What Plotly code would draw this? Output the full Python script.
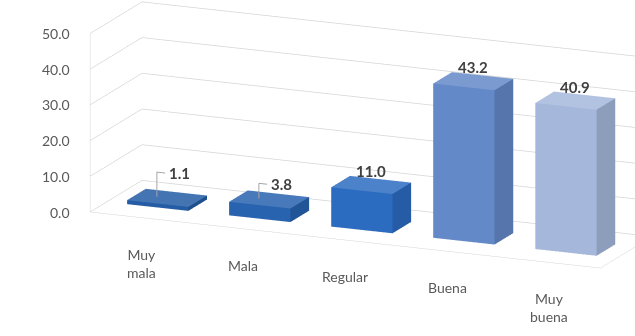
import math
import plotly.graph_objects as go

categories = ["Muy mala", "Mala", "Regular", "Buena", "Muy buena"]
category_labels = ["Muy<br>mala", "Mala", "Regular", "Buena", "Muy<br>buena"]
values = [1.1, 3.8, 11.0, 43.2, 40.9]
axis_ticks = [0, 10, 20, 30, 40, 50]
bar_colors = ["#245ca5", "#2863b0", "#2c6cc0", "#6389c8", "#a5b8dc"]

BAR_W = 0.6           # bar width as a fraction of the category slot
DEPTH = (0.32, 0.68)  # bar extent along the depth axis
FONT = "Lato, Open Sans, sans-serif"
TEXT = "#595959"


def scale(hex_color, f):
    h = hex_color.lstrip("#")
    r, g, b = (int(h[i:i + 2], 16) for i in (0, 2, 4))
    if f >= 1:
        r, g, b = (int(c + (255 - c) * (f - 1)) for c in (r, g, b))
    else:
        r, g, b = (int(c * f) for c in (r, g, b))
    return f"rgb({r},{g},{b})"


def cuboid(ix, height, color):
    x0, x1 = ix - BAR_W / 2, ix + BAR_W / 2
    y0, y1 = DEPTH
    xs = [x0, x1, x1, x0, x0, x1, x1, x0]
    ys = [y0, y0, y1, y1, y0, y0, y1, y1]
    zs = [0, 0, 0, 0, height, height, height, height]
    tri = [
        (0, 1, 2), (0, 2, 3),   # bottom
        (4, 5, 6), (4, 6, 7),   # top
        (0, 1, 5), (0, 5, 4),   # front
        (3, 2, 6), (3, 6, 7),   # back
        (0, 3, 7), (0, 7, 4),   # left
        (1, 2, 6), (1, 6, 5),   # right
    ]
    shades = [0.6, 0.6, 1.15, 1.15, 1.0, 1.0, 0.9, 0.9, 0.8, 0.8, 0.86, 0.86]
    return go.Mesh3d(
        x=xs, y=ys, z=zs,
        i=[t[0] for t in tri], j=[t[1] for t in tri], k=[t[2] for t in tri],
        facecolor=[scale(color, s) for s in shades],
        flatshading=True,
        lighting=dict(ambient=1.0, diffuse=0.0, specular=0.0, fresnel=0.0),
        hoverinfo="skip", showscale=False, name=categories[ix],
    )


fig = go.Figure()
for ix, (v, c) in enumerate(zip(values, bar_colors)):
    fig.add_trace(cuboid(ix, v, c))

annotations = []
y_mid = sum(DEPTH) / 2
for ix, v in enumerate(values):
    label = f"<b>{v:.1f}</b>"
    if v < 5:
        # short bars get a leader line up to a raised label
        lift = 8.0
        fig.add_trace(go.Scatter3d(
            x=[ix - 0.1, ix - 0.1, ix - 0.02],
            y=[y_mid, y_mid, y_mid],
            z=[v, lift, lift],
            mode="lines", line=dict(color="#a6a6a6", width=2),
            hoverinfo="skip", showlegend=False,
        ))
        annotations.append(dict(
            x=ix, y=y_mid, z=lift, text=label, showarrow=False,
            xanchor="left", yanchor="middle",
            font=dict(family=FONT, size=15, color="#404040"),
        ))
    else:
        annotations.append(dict(
            x=ix, y=y_mid, z=v, text=label, showarrow=False,
            xanchor="center", yanchor="bottom", yshift=3,
            font=dict(family=FONT, size=15, color="#404040"),
        ))
    annotations.append(dict(
        x=ix, y=0, z=0, text=category_labels[ix], showarrow=False,
        xanchor="center", yanchor="top", yshift=-26,
        font=dict(family=FONT, size=14, color=TEXT),
    ))

# value-axis labels along the front edge of the left wall
for t in axis_ticks:
    annotations.append(dict(
        x=-0.5, y=0, z=t, text=f"{t:.1f}", showarrow=False,
        xanchor="right", yanchor="middle", xshift=-18,
        font=dict(family=FONT, size=14, color=TEXT),
    ))

theta = math.radians(23)   # azimuth
phi = math.radians(15)     # elevation
r = 2.0
shift = dict(x=-0.279, y=-0.161, z=-0.193)
eye = dict(x=shift["x"] + r * math.sin(theta) * math.cos(phi),
           y=shift["y"] - r * math.cos(theta) * math.cos(phi),
           z=shift["z"] + r * math.sin(phi))

grid = "#d5d5d5"
common = dict(title=dict(text=""), showbackground=True, backgroundcolor="white",
              showline=True, linecolor=grid, zeroline=False, showspikes=False,
              ticks="", showticklabels=False)
fig.update_layout(
    width=635, height=336,
    margin=dict(l=0, r=0, t=0, b=0),
    paper_bgcolor="white",
    showlegend=False,
    hovermode=False,
    scene=dict(
        domain=dict(x=[0, 1], y=[0, 1]),
        aspectmode="manual",
        aspectratio=dict(x=3.3, y=0.79, z=1.1),
        xaxis=dict(range=[-0.5, 4.5], showgrid=False, **common),
        yaxis=dict(range=[0, 1], showgrid=False, **common),
        zaxis=dict(range=[0, 50], tickvals=axis_ticks,
                   showgrid=True, gridcolor=grid, gridwidth=1.5, **common),
        camera=dict(
            eye=eye,
            center=shift,
            up=dict(x=0, y=0, z=1),
            projection=dict(type="orthographic"),
        ),
        annotations=annotations,
    ),
)

fig.write_html("out.html")
